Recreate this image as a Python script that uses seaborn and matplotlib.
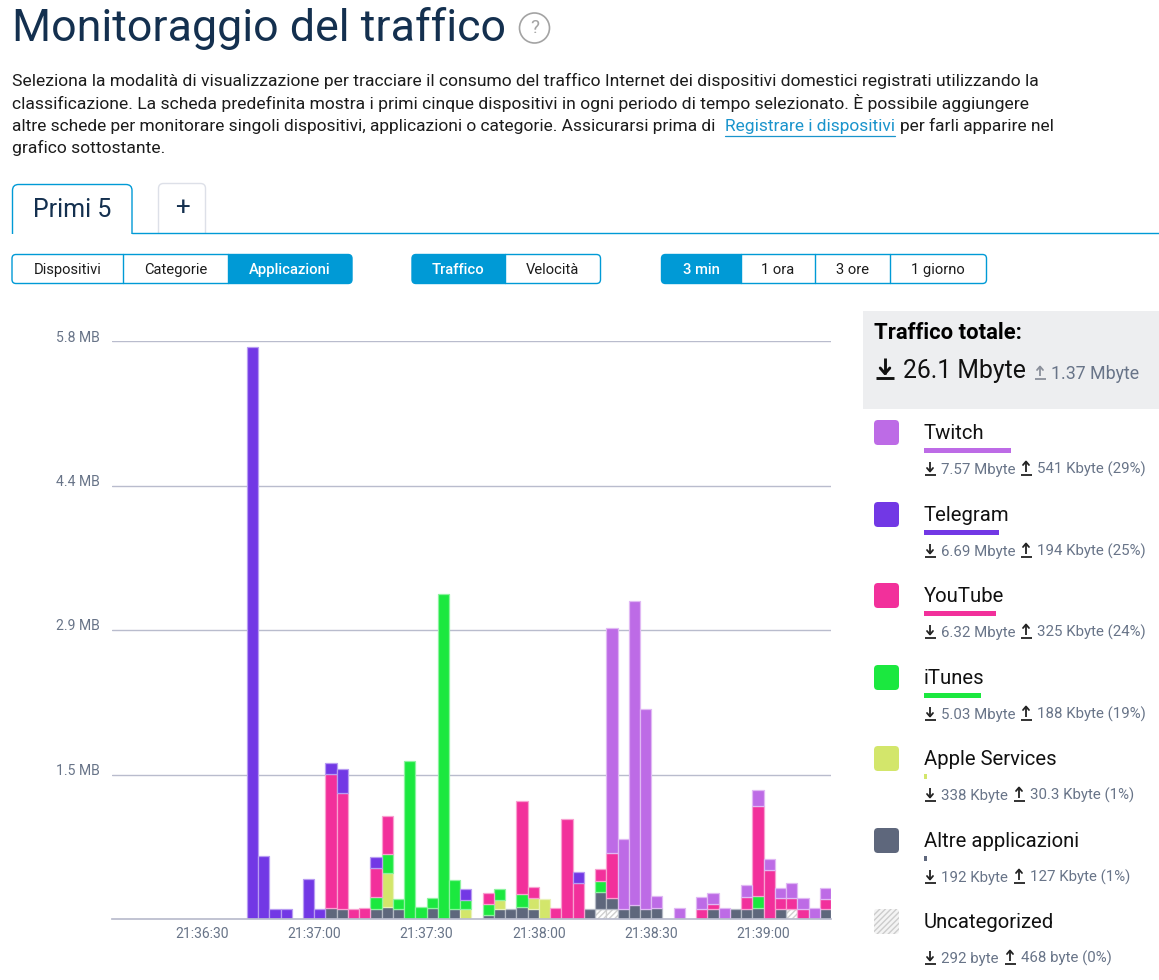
import matplotlib
matplotlib.use("Agg")
import matplotlib.pyplot as plt
from matplotlib.patches import FancyBboxPatch, Rectangle
from matplotlib.transforms import ScaledTranslation
import numpy as np
import seaborn as sns

# values in MB, one per 3 second slot, starting at 21:36:06
uncategorized = [0]*43 + [.10, .10] + [0]*15 + [.097] + [0]*3
altre = [0]*19 + [.114, .097, 0, 0, .097, .124, .097, 0, 0, .107, 0, .097, 0, 0, .044, .097, .097, .124,
         .097, 0, 0, 0, 0, .104, .171, .114, .10, .137, .097, .114, 0, 0, 0, 0, .104, 0, .097, .104, .114,
         0, .104, 0, 0, 0, .097]
apple = [0]*24 + [.335, 0, 0, 0, 0, 0, 0, .097, 0, 0, .097, 0, 0, .114, .20] + [0]*25
itunes = [0]*23 + [.127, .197, .10, 1.583, .117, .104, 3.263, .298, .097, 0, .104, .104, 0, .13, 0, 0, 0,
          0, 0, 0, .114] + [0]*13 + [.117] + [0]*6
youtube = [0]*19 + [1.339, 1.165, .097, .107, .288, .375, 0, 0, 0, 0, 0, 0, 0, 0, .11, 0, 0, .934, .114, 0,
           .107, 1.007, .365, 0, .12, .445] + [0]*7 + [.104, .05, 0, 0, .117, .904, .492, .11, .11, .104, 0, .107]
telegram = [0]*12 + [5.74, .636, .104, .097, 0, .405, .097, .11, .248, 0, 0, .11, 0, 0, 0, 0, 0, 0, 0, .104,
            0, 0, 0, 0, 0, 0, 0, 0, 0, .11] + [0]*22
twitch = [0]*44 + [2.26, .70, 3.06, 2.01, .114, 0, .11, 0, .117, .104, .114, 0, .117, .157, .114, .10, .157,
                   .11, .107, .11]

series_names = ["Uncategorized", "Altre applicazioni", "Apple Services", "iTunes", "YouTube", "Telegram", "Twitch"]
series_values = [uncategorized, altre, apple, itunes, youtube, telegram, twitch]
series_colors = ["#ffffff", "#5e677c", "#d3e66b", "#1be83f", "#f2309b", "#7238e5", "#bd6be6"]
edge_colors = ["#cfcfcf", "#b4b9c4", "#e9f2b8", "#8df39f", "#f8a0d0", "#b89cf2", "#e0b8f4"]

y_ticks = [1.45, 2.9, 4.35, 5.8]
y_labels = ["1.5 MB", "2.9 MB", "4.4 MB", "5.8 MB"]
x_labels = ["21:36:30", "21:37:00", "21:37:30", "21:38:00", "21:38:30", "21:39:00"]
x_slots = [7.5, 17.5, 27.5, 37.5, 47.5, 57.5]

legend_names = ["Twitch", "Telegram", "YouTube", "iTunes", "Apple Services", "Altre applicazioni", "Uncategorized"]
legend_colors = ["#bd6be6", "#7238e5", "#f2309b", "#1be83f", "#d3e66b", "#5e677c", None]
legend_down = ["7.57 Mbyte", "6.69 Mbyte", "6.32 Mbyte", "5.03 Mbyte", "338 Kbyte", "192 Kbyte", "292 byte"]
legend_up = ["541 Kbyte (29%)", "194 Kbyte (25%)", "325 Kbyte (24%)", "188 Kbyte (19%)",
             "30.3 Kbyte (1%)", "127 Kbyte (1%)", "468 byte (0%)"]
legend_bar_ends = [1011, 999, 996, 981, 927, 927, None]
legend_up_x = [1026, 1026, 1026, 1026, 1019, 1019, 1010]

sns.set_theme(style="white")
plt.rcParams["font.family"] = ["Roboto", "DejaVu Sans"]
plt.rcParams["hatch.linewidth"] = 1.0

BLUE = "#009ad6"
GREY = "#687488"
W, H = 1159, 980


def px(size):
    return size * 0.72


fig = plt.figure(figsize=(W / 100, H / 100), dpi=100, facecolor="white")

# chart
ax = fig.add_axes([112 / W, 1 - 919 / H, 719 / W, (919 - 341.5) / H])
slots = list(range(64))
bottom = np.zeros(64)
for name, vals, col, edge in zip(series_names, series_values, series_colors, edge_colors):
    vals = np.array(vals, dtype=float)
    keep = vals > 0
    sns.barplot(x=np.array(slots)[keep], y=vals[keep], order=slots, bottom=bottom[keep], color=col,
                saturation=1, width=1, edgecolor=edge, linewidth=0.9, errorbar=None, ax=ax,
                hatch="//////" if name == "Uncategorized" else None)
    bottom += vals

ax.set_ylim(0, 5.8)
ax.set_xlim(-0.5, 63.5)
ax.set_xlabel("")
ax.set_ylabel("")
ax.set_xticks(x_slots)
ax.set_xticklabels(x_labels)
ax.set_yticks(y_ticks)
ax.set_yticklabels(y_labels, va="bottom")
ax.tick_params(axis="x", length=0, pad=5.5, labelsize=px(14), labelcolor=GREY)
ax.tick_params(axis="y", length=0, pad=8.6, labelsize=px(14), labelcolor=GREY)
for t in ax.get_yticklabels():
    t.set_transform(t.get_transform() + ScaledTranslation(0, -3 / 100, fig.dpi_scale_trans))
ax.grid(axis="y", color="#b9bccd", linewidth=1)
ax.set_axisbelow(True)
sns.despine(ax=ax, left=True, top=True, right=True)
ax.spines["bottom"].set_color("#b9bccd")

# page furniture, in pixel coordinates
ui = fig.add_axes([0, 0, 1, 1], zorder=-1)
ui.set_xlim(0, W)
ui.set_ylim(H, 0)
ui.axis("off")


def label(x, y, s, size, color="#111111", ha="left", va="center", **kw):
    ui.text(x, y, s, fontsize=px(size), color=color, ha=ha, va=va, **kw)


def arrow(x, y, up=False, color="#222222", s=1.0):
    top, tip = y - 6.5 * s, y + 3.5 * s
    ui.plot([x - 5.5 * s, x + 5.5 * s], [y + 6.5 * s] * 2, color=color, lw=1.3 * s, solid_capstyle="butt")
    ui.plot([x, x], [top, tip], color=color, lw=1.3 * s, solid_capstyle="butt")
    if up:
        ui.plot([x - 3 * s, x, x + 3 * s], [top + 3.5 * s, top, top + 3.5 * s], color=color, lw=1.3 * s)
    else:
        ui.plot([x - 3 * s, x, x + 3 * s], [tip - 3.5 * s, tip, tip - 3.5 * s], color=color, lw=1.3 * s)


def button_group(x0, x1, dividers, names, active):
    y0, y1 = 254.5, 283.5
    edges = [x0] + dividers + [x1]
    i = names.index(active)
    ui.add_patch(FancyBboxPatch((edges[i] + 3, y0 + 3), edges[i + 1] - edges[i] - 6, y1 - y0 - 6,
                                boxstyle="round,pad=3,rounding_size=4", fc=BLUE, ec="none"))
    if i == 0:
        ui.add_patch(Rectangle((edges[1] - 6, y0), 6, y1 - y0, fc=BLUE, ec="none"))
    else:
        ui.add_patch(Rectangle((edges[i], y0), 6, y1 - y0, fc=BLUE, ec="none"))
    ui.add_patch(FancyBboxPatch((x0 + 3, y0 + 3), x1 - x0 - 6, y1 - y0 - 6,
                                boxstyle="round,pad=3,rounding_size=4", fc="none", ec=BLUE, lw=1))
    for d in dividers:
        ui.plot([d, d], [y0, y1], color=BLUE, lw=1)
    for j, n in enumerate(names):
        on = n == active
        label((edges[j] + edges[j + 1]) / 2, 269.5, n, 14.8, "white" if on else "#1c1c1c", ha="center",
              fontweight="medium" if on else "normal")


# header
label(12, 29, "Monitoraggio del traffico", 44.8, "#14304f")
ui.add_patch(plt.Circle((534.5, 28), 15, fc="white", ec="#a3a3a3", lw=1.2))
label(534.5, 28, "?", 19, "#a3a3a3", ha="center")
para = ["Seleziona la modalità di visualizzazione per tracciare il consumo del traffico Internet dei dispositivi domestici registrati utilizzando la",
        "classificazione. La scheda predefinita mostra i primi cinque dispositivi in ogni periodo di tempo selezionato. È possibile aggiungere",
        "altre schede per monitorare singoli dispositivi, applicazioni o categorie. Assicurarsi prima di",
        "grafico sottostante."]
for y, line, size in zip([81, 103, 126, 148], para, [17.45, 17.45, 17.35, 17.45]):
    label(12.5, y, line, size, "#1c1c1c")
label(725, 126, "Registrare i dispositivi", 17.35, "#1a94cc")
ui.plot([725, 895], [136.5, 136.5], color="#1a94cc", lw=0.9)
label(899.5, 126, "per farli apparire nel", 17.35, "#1c1c1c")

# tabs
ui.add_patch(FancyBboxPatch((158.5, 183.5), 47, 55, boxstyle="round,pad=0,rounding_size=5", fc="white", ec="#dde0e8", lw=1))
ui.add_patch(Rectangle((150, 234), 70, 10, fc="white", ec="none", zorder=3))
ui.add_patch(FancyBboxPatch((12.5, 184.5), 119.5, 55, boxstyle="round,pad=0,rounding_size=6", fc="white", ec=BLUE, lw=1))
ui.add_patch(Rectangle((5, 234), 135, 10, fc="white", ec="none", zorder=3))
ui.plot([132, W], [233.5, 233.5], color=BLUE, lw=1, zorder=4)
label(72.5, 210, "Primi 5", 25, "#14304f", ha="center")
label(182, 208, "+", 26, "#14304f", ha="center")

button_group(12, 352, [123, 228], ["Dispositivi", "Categorie", "Applicazioni"], "Applicazioni")
button_group(412, 600.5, [505], ["Traffico", "Velocità"], "Traffico")
button_group(661.5, 986.5, [741, 815, 890], ["3 min", "1 ora", "3 ore", "1 giorno"], "3 min")

# side panel
ui.add_patch(Rectangle((863, 311), 296, 98, fc="#edeef0", ec="none"))
label(874, 333, "Traffico totale:", 22, "#000000", fontweight="bold")
arrow(885, 368, color="#111111", s=1.6)
label(903, 371, "26.1 Mbyte", 24.8, "#111111")
arrow(1040, 373, up=True, color="#8a8f9a", s=1.0)
label(1051, 373.5, "1.37 Mbyte", 17.8, GREY)

row_tops = [420, 502, 583, 665, 746, 828, 909]
for i, top in enumerate(row_tops):
    if legend_colors[i]:
        ui.add_patch(FancyBboxPatch((877, top + 3), 19, 19, boxstyle="round,pad=3,rounding_size=4",
                                    fc=legend_colors[i], ec="none"))
    else:
        ui.add_patch(FancyBboxPatch((877, top + 3), 19, 19, boxstyle="round,pad=3,rounding_size=3",
                                    fc="#f4f4f4", ec="#cccccc", lw=0, hatch="//////"))
    label(924, top + 13, legend_names[i], 20.3, "#111111")
    if legend_bar_ends[i]:
        ui.add_patch(Rectangle((924, top + 28), legend_bar_ends[i] - 924, 4.5, fc=legend_colors[i], ec="none"))
    arrow(930, top + 48)
    label(941, top + 54, legend_down[i], 15, GREY, va="baseline")
    arrow(legend_up_x[i], top + 48, up=True)
    label(legend_up_x[i] + 11, top + 54, legend_up[i], 15, GREY, va="baseline")

fig.savefig("out.png", dpi=100)
